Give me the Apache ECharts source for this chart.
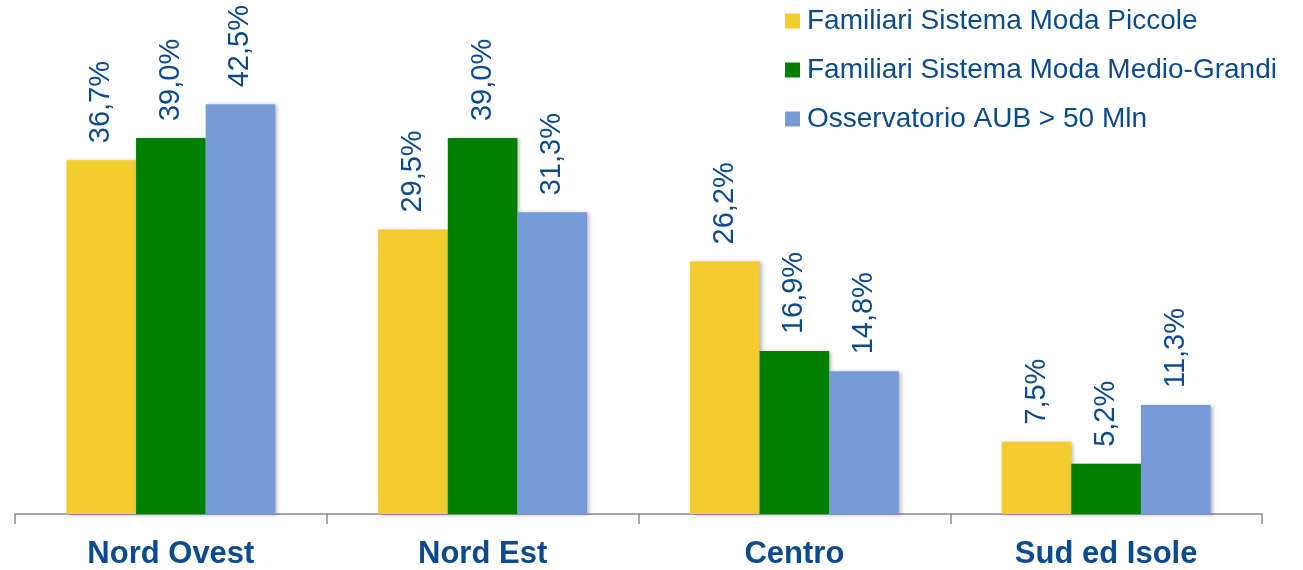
<!DOCTYPE html>
<html>
<head>
<meta charset="utf-8">
<script src="https://cdn.jsdelivr.net/npm/echarts@6/dist/echarts.min.js"></script>
<style>
  html, body { margin: 0; padding: 0; background: #fff; }
  #chart { width: 1303px; height: 570px; }
</style>
</head>
<body>
<div id="chart"></div>
<script>
// Areas and the share (%) of companies in each group
const categories = ['Nord Ovest', 'Nord Est', 'Centro', 'Sud ed Isole'];
const seriesNames = [
  'Familiari Sistema Moda Piccole',
  'Familiari Sistema Moda Medio-Grandi',
  'Osservatorio AUB > 50 Mln'
];
const piccole = [36.7, 29.5, 26.2, 7.5];
const medioGrandi = [39.0, 39.0, 16.9, 5.2];
const osservatorio = [42.5, 31.3, 14.8, 11.3];

const colors = ['#F4CC2E', '#008000', '#789BD8'];
const textBlue = '#0B4A8E';
const font = '"Liberation Sans", Arial, sans-serif';

function barSeries(name, data, color) {
  return {
    name: name,
    type: 'bar',
    data: data,
    barGap: '0%',
    barCategoryGap: '33%',
    itemStyle: {
      color: color,
      shadowColor: 'rgba(0,0,0,0.28)',
      shadowBlur: 4,
      shadowOffsetX: 2,
      shadowOffsetY: 1
    },
    label: {
      show: true,
      position: 'top',
      rotate: 90,
      align: 'left',
      verticalAlign: 'middle',
      distance: 15,
      offset: [2, 0],
      color: textBlue,
      fontFamily: font,
      fontSize: 29,
      formatter: p => p.value.toFixed(1).replace('.', ',') + '%'
    }
  };
}

const chart = echarts.init(document.getElementById('chart'));
chart.setOption({
  animation: false,
  backgroundColor: '#fff',
  grid: { left: 15, right: 41, top: 32, bottom: 53, containLabel: false },
  legend: {
    orient: 'vertical',
    left: 780,
    top: 0,
    icon: 'rect',
    itemWidth: 15,
    itemHeight: 15,
    itemGap: 17,
    textStyle: {
      color: textBlue,
      fontFamily: font,
      fontSize: 28,
      lineHeight: 32,
      padding: [0, 0, 0, 2]
    },
    data: seriesNames
  },
  xAxis: {
    type: 'category',
    data: categories,
    axisLine: { lineStyle: { color: '#8c8c8c', width: 1.5 } },
    axisTick: { show: true, length: 10, lineStyle: { color: '#8c8c8c', width: 1.5 } },
    axisLabel: {
      color: textBlue,
      fontFamily: font,
      fontSize: 31,
      fontWeight: 'bold',
      margin: 25
    }
  },
  yAxis: {
    type: 'value',
    min: 0,
    max: 50,
    show: false,
    splitLine: { show: false }
  },
  series: [
    barSeries(seriesNames[0], piccole, colors[0]),
    barSeries(seriesNames[1], medioGrandi, colors[1]),
    barSeries(seriesNames[2], osservatorio, colors[2])
  ]
});
</script>
</body>
</html>
